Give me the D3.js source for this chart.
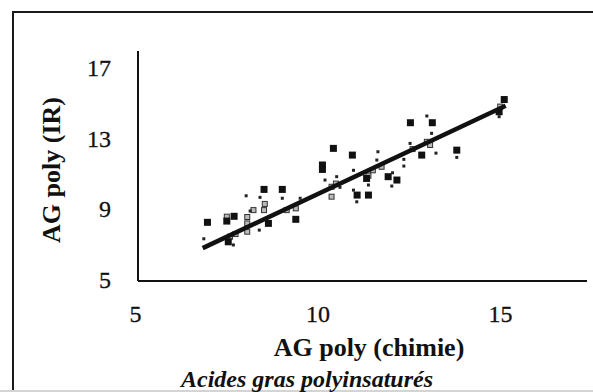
<!DOCTYPE html>
<html>
<head>
<meta charset="utf-8">
<script src="https://cdn.jsdelivr.net/npm/d3@7"></script>
<style>
  html, body { margin: 0; padding: 0; background: #fff; }
  svg { display: block; }
  .axis text { font-family: "Liberation Serif", "Times New Roman", serif; font-size: 24px; fill: #111; stroke: #111; stroke-width: 0.3px; }
  .axis path { stroke: #111; stroke-width: 2px; shape-rendering: crispEdges; }
  .title { font-family: "Liberation Serif", "Times New Roman", serif; fill: #111; }
</style>
</head>
<body>
<div id="chart"></div>
<script>
// tick labels
const xTicks = [5, 10, 15]
const yTicks = [5, 9, 13, 17]

// filled black squares (large)
const bigSquares = [
  [6.93, 8.26], [7.46, 8.33], [7.66, 8.60], [7.50, 7.16], [8.48, 10.12], [8.98, 10.12],
  [9.35, 8.43], [8.60, 8.20], [10.08, 11.50], [10.08, 11.25], [10.38, 12.44], [10.90, 12.06],
  [11.03, 9.80], [11.34, 9.80], [11.29, 10.74], [12.12, 10.65], [11.88, 10.84], [12.49, 13.89],
  [13.09, 13.89], [12.80, 12.06], [13.76, 12.34], [15.06, 15.20], [14.92, 14.51]
]

// small black dots
const smallDots = [
  [6.83, 7.33], [7.99, 9.76], [8.37, 9.67], [8.98, 9.62], [9.47, 9.62], [8.35, 7.82],
  [7.64, 6.98], [10.15, 10.65], [10.47, 10.84], [10.56, 10.24], [10.93, 11.20], [10.93, 10.08],
  [11.02, 9.42], [11.34, 10.37], [11.60, 12.25], [11.57, 11.78], [12.00, 11.06], [11.98, 10.31],
  [12.31, 11.82], [12.31, 11.44], [12.48, 12.72], [12.94, 14.27], [13.07, 13.29], [13.19, 12.17],
  [13.76, 11.93], [14.92, 14.23], [8.10, 8.90]
]

// hollow squares close to the fitted line
const hollowSquares = [
  [7.46, 8.58], [8.02, 8.56], [8.02, 8.20], [8.02, 7.73], [7.55, 7.45], [7.70, 7.60],
  [8.19, 8.95], [8.48, 8.95], [8.50, 9.30], [9.10, 8.95], [9.35, 9.05], [10.33, 10.27],
  [10.33, 9.71], [10.45, 10.45], [11.46, 11.20], [11.34, 10.90], [11.70, 11.40], [12.94, 12.81],
  [13.03, 12.63], [12.55, 12.40], [14.95, 14.80]
]

// regression line end points
const fitX = [6.8, 15.1]
const fitY = [6.8, 14.85]

const W = 593, H = 392

const svg = d3.select('#chart').append('svg')
  .attr('width', W)
  .attr('height', H)

// FRAME
svg.append('path')
  .attr('d', `M13,${H} L13,12 L${W},12`)
  .attr('fill', 'none')
  .attr('stroke', '#1a1a1a')
  .attr('stroke-width', 2)
svg.append('line')
  .attr('x1', 0).attr('x2', W)
  .attr('y1', H - 1).attr('y2', H - 1)
  .attr('stroke', '#d4d4d4')
  .attr('stroke-width', 2)

// SCALES
const x = d3.scaleLinear().domain([5, 17.3]).range([137, 586])
const y = d3.scaleLinear().domain([5, 18]).range([280, 50])

// X AXIS
const xAxisG = svg.append('g')
  .attr('class', 'axis x')
  .attr('transform', `translate(0,${y(5)})`)
  .call(d3.axisBottom(x).tickValues(xTicks).tickSize(0).tickPadding(25).tickFormat(d3.format('d')))
xAxisG.selectAll('text').attr('dx', '-2')

// Y AXIS
svg.append('g')
  .attr('class', 'axis y')
  .attr('transform', `translate(${x(5)},0)`)
  .call(d3.axisLeft(y).tickValues(yTicks).tickSize(0).tickPadding(26).tickFormat(d3.format('d')))

// AXIS TITLES
svg.append('text')
  .attr('class', 'title')
  .attr('x', 369).attr('y', 356)
  .attr('text-anchor', 'middle')
  .style('font-size', '26px')
  .style('font-weight', 'bold')
  .text('AG poly (chimie)')

svg.append('text')
  .attr('class', 'title')
  .attr('transform', 'translate(60,170) rotate(-90)')
  .attr('text-anchor', 'middle')
  .style('font-size', '26px')
  .style('font-weight', 'bold')
  .text('AG poly (IR)')

svg.append('text')
  .attr('class', 'title')
  .attr('x', 307).attr('y', 387)
  .attr('text-anchor', 'middle')
  .style('font-size', '24px')
  .style('font-weight', 'bold')
  .style('font-style', 'italic')
  .text('Acides gras polyinsaturés')

// POINTS
const plot = svg.append('g')

plot.selectAll('rect.hollow')
  .data(hollowSquares)
  .join('rect')
  .attr('class', 'hollow')
  .attr('x', d => x(d[0]) - 2.5)
  .attr('y', d => y(d[1]) - 2.5)
  .attr('width', 5)
  .attr('height', 5)
  .attr('fill', '#bbb')
  .attr('stroke', '#333')
  .attr('stroke-width', 1)

plot.selectAll('rect.big')
  .data(bigSquares)
  .join('rect')
  .attr('class', 'big')
  .attr('x', d => x(d[0]) - 3.5)
  .attr('y', d => y(d[1]) - 3.5)
  .attr('width', 7)
  .attr('height', 7)
  .attr('fill', '#111')

plot.selectAll('rect.small')
  .data(smallDots)
  .join('rect')
  .attr('class', 'small')
  .attr('x', d => x(d[0]) - 1.5)
  .attr('y', d => y(d[1]) - 1.5)
  .attr('width', 3)
  .attr('height', 3)
  .attr('fill', '#222')

// FITTED LINE
plot.append('line')
  .attr('x1', x(fitX[0])).attr('y1', y(fitY[0]))
  .attr('x2', x(fitX[1])).attr('y2', y(fitY[1]))
  .attr('stroke', '#111')
  .attr('stroke-width', 4.5)
</script>
</body>
</html>
